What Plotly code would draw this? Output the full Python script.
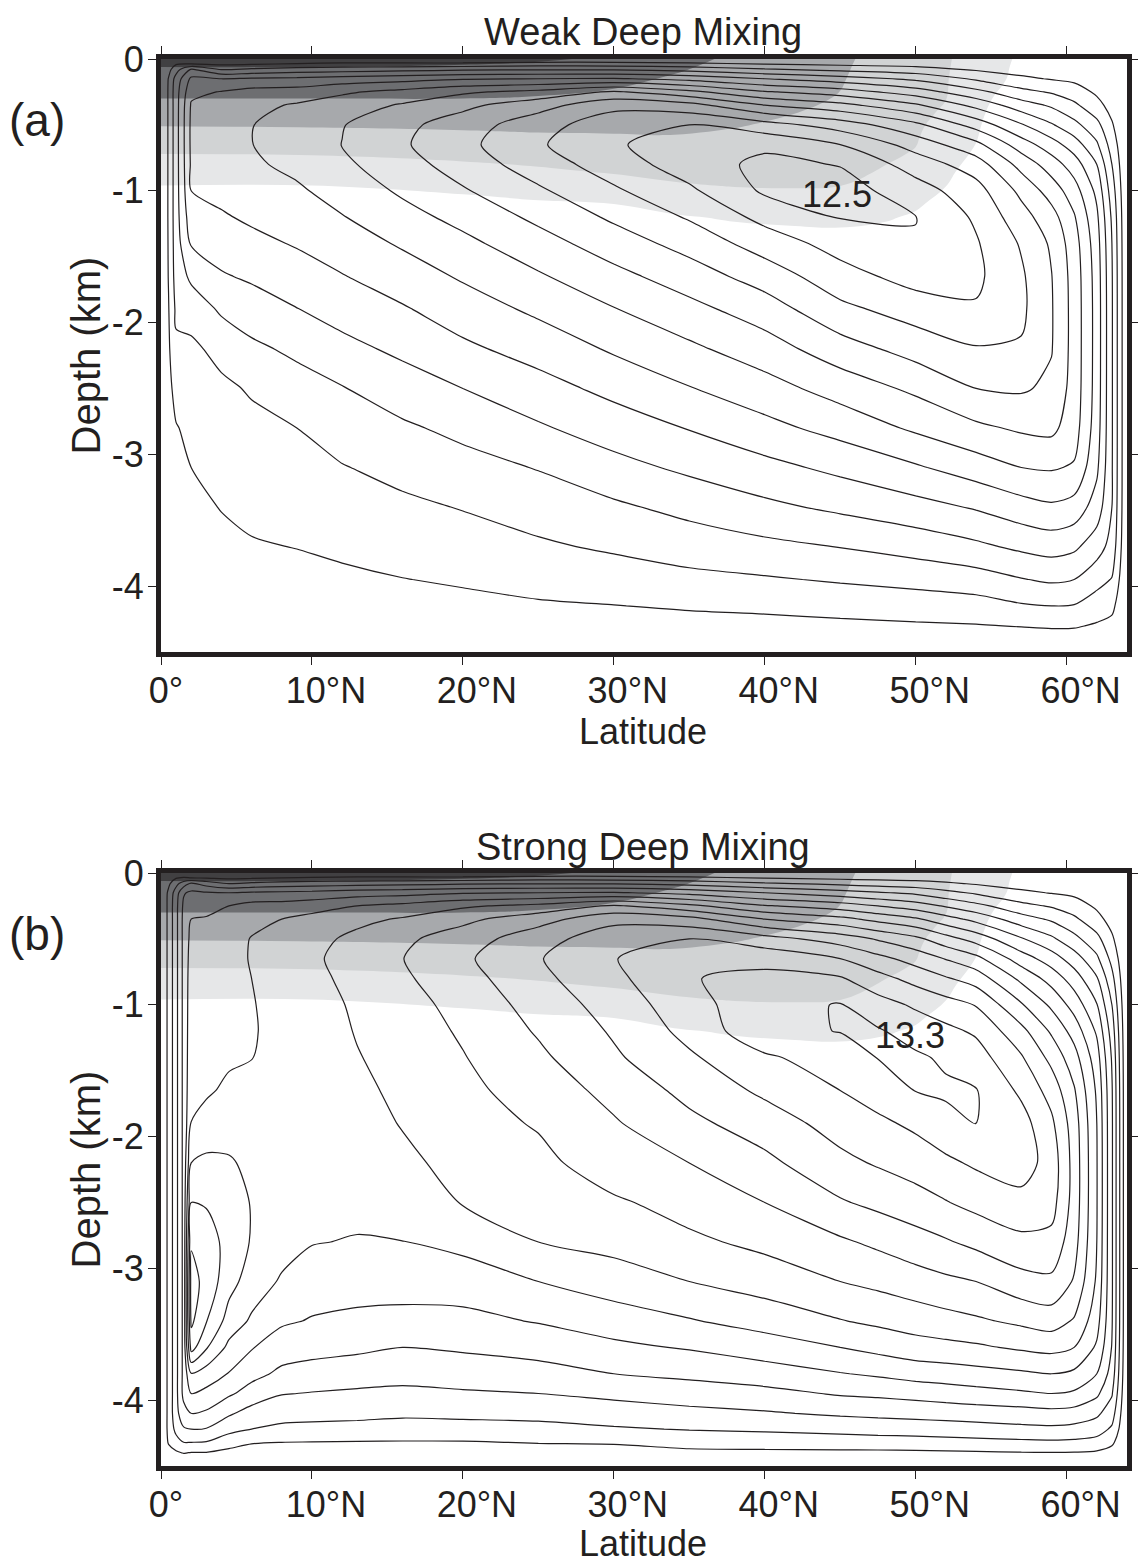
import numpy as np
import plotly.graph_objects as go

FONT = "Liberation Sans, Arial, Helvetica, sans-serif"
INK = "#231f20"

# ---------------- data ----------------
# Panel (a): overturning streamfunction (Sv); one list per latitude, surface -> bottom
depth_a = [0, -0.03, -0.08, -0.15, -0.25, -0.35, -0.5, -0.65, -0.8, -1.0, -1.2, -1.4,
           -1.65, -1.9, -2.2, -2.5, -2.8, -3.1, -3.4, -3.7, -3.95, -4.15, -4.3, -4.42, -4.5]
lat_a = [0, 0.5, 1, 2, 4, 6, 9, 12, 16, 20, 25, 30, 35, 40, 45, 50, 54, 57, 59, 60.5, 62, 63, 64]
psi_a_by_lat = [
    [0] * 25,
    [0, 0.3, 0.7, 1.05, 1.1, 1.1, 1.1, 1.1, 1.1, 1.1, 1.1, 1.08, 1.05, 0.95, 0.85, 0.75, 0.65, 0.55, 0.45, 0.35, 0.25, 0.17, 0.1, 0.05, 0],
    [0, 0.8, 1.6, 2.4, 2.6, 2.6, 2.6, 2.6, 2.6, 2.6, 2.6, 2.55, 2.45, 2.2, 1.8, 1.3, 0.95, 0.75, 0.6, 0.45, 0.33, 0.22, 0.13, 0.06, 0],
    [0, 0.67, 3.15, 4.2, 4.75, 5.1, 5.2, 5.2, 5.15, 5.0, 4.6, 4.1, 3.2, 2.4, 1.8, 1.45, 1.2, 1.0, 0.8, 0.6, 0.42, 0.28, 0.17, 0.08, 0],
    [0, 0.6, 2.0, 4.0, 5.05, 5.35, 5.55, 5.55, 5.45, 5.25, 4.9, 4.45, 3.9, 3.15, 2.3, 1.8, 1.5, 1.25, 1.03, 0.8, 0.55, 0.38, 0.23, 0.1, 0],
    [0, 0.65, 2.2, 4.15, 5.35, 5.75, 5.97, 5.98, 5.85, 5.55, 5.15, 4.75, 4.15, 3.5, 2.8, 2.1, 1.75, 1.45, 1.2, 0.93, 0.68, 0.47, 0.3, 0.13, 0],
    [0, 0.85, 2.45, 4.2, 5.45, 6.1, 6.45, 6.5, 6.25, 5.85, 5.45, 5.08, 4.55, 3.97, 3.2, 2.6, 2.0, 1.65, 1.35, 1.02, 0.75, 0.52, 0.33, 0.15, 0],
    [0, 1.0, 2.55, 4.45, 5.85, 6.5, 6.95, 7.02, 6.8, 6.4, 5.95, 5.5, 4.95, 4.4, 3.7, 2.95, 2.45, 1.95, 1.55, 1.15, 0.85, 0.6, 0.38, 0.17, 0],
    [0, 1.0, 2.7, 4.65, 6.3, 7.1, 7.75, 7.88, 7.6, 7.15, 6.65, 6.12, 5.5, 4.9, 4.22, 3.5, 2.85, 2.3, 1.8, 1.35, 0.98, 0.7, 0.45, 0.2, 0],
    [0, 1.0, 2.85, 4.9, 6.85, 7.75, 8.5, 8.72, 8.45, 7.9, 7.3, 6.75, 6.12, 5.5, 4.8, 4.0, 3.25, 2.65, 2.05, 1.55, 1.1, 0.78, 0.5, 0.22, 0],
    [0, 1.2, 2.95, 5.0, 7.3, 8.6, 9.6, 9.88, 9.5, 8.85, 8.22, 7.6, 6.88, 6.2, 5.4, 4.62, 3.88, 3.05, 2.45, 1.85, 1.3, 0.9, 0.58, 0.26, 0],
    [0, 1.2, 2.9, 5.1, 8.15, 9.7, 10.6, 10.85, 10.5, 9.85, 9.17, 8.5, 7.7, 6.95, 6.13, 5.28, 4.47, 3.68, 2.83, 2.15, 1.48, 0.98, 0.62, 0.28, 0],
    [0, 1.0, 2.65, 4.7, 7.25, 9.35, 11.0, 11.65, 11.5, 10.82, 10.1, 9.37, 8.5, 7.7, 6.8, 5.95, 5.05, 4.2, 3.3, 2.45, 1.75, 1.1, 0.68, 0.3, 0],
    [0, 0.75, 2.15, 4.0, 6.1, 8.0, 10.4, 11.8, 12.25, 12.15, 11.3, 10.45, 9.45, 8.5, 7.55, 6.6, 5.7, 4.7, 3.78, 2.75, 1.9, 1.2, 0.72, 0.32, 0],
    [0, 0.6, 1.75, 3.45, 5.5, 7.3, 9.55, 11.0, 11.95, 12.45, 12.05, 11.4, 10.6, 9.75, 8.55, 7.42, 6.35, 5.25, 4.2, 3.03, 2.1, 1.35, 0.8, 0.35, 0],
    [0, 0.5, 1.4, 2.8, 4.5, 6.15, 8.25, 9.6, 10.55, 11.45, 12.02, 11.95, 11.4, 10.45, 9.4, 8.2, 7.17, 5.88, 4.65, 3.4, 2.3, 1.5, 0.88, 0.38, 0],
    [0, 0.33, 0.9, 1.85, 3.3, 4.7, 6.6, 8.3, 9.5, 10.4, 10.85, 11.1, 11.2, 10.9, 9.92, 9.0, 7.8, 6.5, 5.1, 3.8, 2.55, 1.6, 0.95, 0.4, 0],
    [0, 0.23, 0.6, 1.2, 2.3, 3.45, 5.1, 6.5, 7.65, 8.75, 9.4, 9.9, 10.15, 10.2, 9.9, 9.12, 8.15, 7.0, 5.6, 4.2, 2.95, 1.9, 1.05, 0.45, 0],
    [0, 0.2, 0.5, 0.93, 1.9, 2.85, 4.1, 5.45, 6.5, 7.55, 8.4, 8.85, 9.03, 9.08, 9.05, 8.8, 8.25, 7.1, 5.85, 4.4, 3.15, 2.0, 1.12, 0.48, 0],
    [0, 0.15, 0.4, 0.8, 1.45, 2.2, 3.3, 4.5, 5.5, 6.45, 7.1, 7.45, 7.6, 7.63, 7.63, 7.6, 7.45, 6.9, 5.6, 4.2, 3.0, 1.95, 1.1, 0.47, 0],
    [0, 0.1, 0.27, 0.5, 0.85, 1.3, 2.3, 3.15, 4.0, 4.75, 5.2, 5.45, 5.58, 5.62, 5.62, 5.6, 5.5, 5.2, 4.55, 3.45, 2.35, 1.5, 0.9, 0.4, 0],
    [0, 0.05, 0.13, 0.24, 0.42, 0.65, 1.1, 1.55, 2.0, 2.5, 2.85, 3.0, 3.08, 3.1, 3.1, 3.1, 3.1, 3.08, 3.0, 2.65, 1.95, 1.25, 0.72, 0.32, 0],
    [0] * 25,
]

# Panel (b)
depth_b = [0, -0.03, -0.08, -0.15, -0.25, -0.35, -0.5, -0.65, -0.8, -1.0, -1.2, -1.4, -1.65, -1.9,
           -2.2, -2.5, -2.8, -3.1, -3.4, -3.6, -3.8, -3.95, -4.1, -4.22, -4.32, -4.4, -4.5]
lat_b = [0, 0.5, 1, 1.5, 2, 3, 4.5, 6, 8, 10, 13, 16, 20, 25, 30, 35, 40, 45, 47.5, 50, 52, 54,
         57, 59, 60.5, 62, 63, 64]
psi_b_by_lat = [
    [0] * 27,
    [0, 0.35, 0.8, 1.2] + [1.25] * 20 + [1.1, 0.6, 0],
    [0, 0.8, 1.7, 2.5] + [2.7] * 19 + [2.3, 1.6, 0.85, 0],
    [0, 0.9, 2.5, 3.9, 4.2] + [4.3] * 17 + [3.6, 2.9, 2.0, 1.05, 0],
    [0, 0.67, 3.15, 4.2, 4.75, 5.0, 5.3, 5.45, 5.55, 5.6, 5.65, 5.7, 5.8, 6.02, 7.0, 8.0, 8.9, 9.35, 9.2, 8.4, 5.95, 5.0, 4.0, 3.0, 2.0, 0.95, 0],
    [0, 0.65, 2.6, 4.1, 4.8, 5.05, 5.3, 5.4, 5.45, 5.5, 5.55, 5.65, 5.85, 6.4, 7.2, 7.9, 8.55, 8.7, 8.05, 7.1, 5.55, 4.75, 3.85, 2.95, 1.95, 0.95, 0],
    [0, 0.6, 2.0, 4.0, 5.0, 5.35, 5.55, 5.6, 5.65, 5.7, 5.75, 5.85, 6.2, 6.6, 7.1, 7.45, 7.6, 7.35, 6.6, 5.75, 4.95, 4.15, 3.15, 2.3, 1.45, 0.7, 0],
    [0, 0.65, 2.2, 4.15, 5.35, 5.7, 6.05, 6.08, 6.0, 5.93, 5.9, 5.98, 6.2, 6.45, 6.8, 6.95, 6.93, 6.55, 5.85, 5.07, 4.3, 3.6, 2.6, 2.0, 1.08, 0.55, 0],
    [0, 0.8, 2.4, 4.2, 5.4, 6.0, 6.4, 6.55, 6.5, 6.4, 6.35, 6.35, 6.4, 6.5, 6.6, 6.6, 6.4, 5.88, 5.15, 4.45, 3.8, 3.05, 2.35, 1.8, 1.0, 0.5, 0],
    [0, 0.9, 2.5, 4.3, 5.6, 6.3, 6.7, 6.85, 6.75, 6.6, 6.5, 6.45, 6.45, 6.45, 6.4, 6.3, 6.05, 5.5, 4.93, 4.35, 3.6, 2.95, 2.3, 1.75, 0.98, 0.5, 0],
    [0, 1.0, 2.6, 4.55, 6.0, 6.75, 7.25, 7.4, 7.3, 7.15, 7.06, 6.95, 6.8, 6.65, 6.5, 6.3, 5.93, 5.38, 4.8, 4.2, 3.45, 2.85, 2.25, 1.7, 0.95, 0.48, 0],
    [0, 1.0, 2.7, 4.65, 6.3, 7.1, 7.8, 7.98, 7.85, 7.65, 7.5, 7.35, 7.2, 7.05, 6.8, 6.5, 5.98, 5.35, 4.75, 4.0, 3.3, 2.8, 2.15, 1.65, 0.93, 0.47, 0],
    [0, 1.0, 2.85, 4.9, 6.85, 7.75, 8.5, 8.82, 8.6, 8.3, 8.12, 7.95, 7.75, 7.55, 7.3, 7.05, 6.3, 5.45, 4.75, 4.15, 3.4, 2.9, 2.2, 1.68, 0.94, 0.47, 0],
    [0, 1.2, 2.95, 5.0, 7.3, 8.6, 9.6, 9.93, 9.75, 9.4, 9.1, 8.8, 8.45, 8.1, 7.7, 7.4, 7.0, 6.0, 5.06, 4.4, 3.6, 3.0, 2.2, 1.8, 1.05, 0.55, 0],
    [0, 1.2, 2.9, 5.1, 8.15, 9.7, 10.6, 10.95, 10.75, 10.42, 10.12, 9.85, 9.3, 8.9, 8.6, 7.85, 7.3, 6.55, 5.45, 4.8, 4.0, 3.25, 2.5, 1.9, 1.1, 0.58, 0],
    [0, 1.0, 2.65, 4.7, 7.25, 9.35, 11.0, 11.85, 11.95, 11.6, 11.3, 10.85, 10.3, 9.75, 9.0, 8.4, 7.8, 7.0, 5.92, 5.08, 4.25, 3.45, 2.75, 2.05, 1.4, 0.75, 0],
    [0, 0.75, 2.15, 4.0, 6.1, 8.0, 10.4, 11.7, 12.25, 12.7, 12.75, 11.85, 11.2, 10.5, 9.75, 9.0, 8.25, 7.45, 6.4, 5.5, 4.55, 3.7, 2.9, 2.15, 1.45, 0.78, 0],
    [0, 0.6, 1.75, 3.45, 5.5, 7.3, 9.55, 11.0, 12.1, 13.05, 13.03, 12.5, 12.0, 11.4, 10.75, 9.9, 8.85, 8.0, 6.95, 6.0, 4.95, 4.1, 3.15, 2.3, 1.5, 0.8, 0],
    [0, 0.55, 1.55, 3.1, 5.0, 6.7, 8.9, 10.3, 11.35, 12.4, 13.1, 13.03, 12.45, 11.8, 11.1, 10.25, 9.2, 8.25, 7.2, 6.3, 5.15, 4.2, 3.25, 2.4, 1.55, 0.8, 0],
    [0, 0.5, 1.4, 2.8, 4.5, 6.15, 8.25, 9.6, 10.65, 11.85, 12.6, 13.15, 13.03, 12.2, 11.45, 10.6, 9.6, 8.55, 7.45, 6.6, 5.4, 4.35, 3.35, 2.45, 1.6, 0.82, 0],
    [0, 0.42, 1.15, 2.3, 3.9, 5.4, 7.4, 8.95, 10.1, 11.4, 12.25, 12.85, 13.15, 12.7, 11.8, 10.95, 9.9, 8.8, 7.65, 6.72, 5.52, 4.5, 3.42, 2.52, 1.66, 0.85, 0],
    [0, 0.33, 0.9, 1.85, 3.3, 4.7, 6.6, 8.3, 9.55, 10.95, 11.85, 12.45, 13.05, 13.02, 12.15, 11.3, 10.25, 9.0, 7.85, 6.85, 5.65, 4.65, 3.5, 2.6, 1.72, 0.88, 0],
    [0, 0.23, 0.6, 1.2, 2.3, 3.45, 5.1, 6.5, 7.75, 9.1, 10.3, 11.1, 11.8, 12.4, 12.45, 11.7, 10.75, 9.65, 8.2, 7.15, 5.85, 4.85, 3.6, 2.75, 1.8, 0.95, 0],
    [0, 0.2, 0.5, 0.95, 1.9, 2.85, 4.2, 5.5, 6.6, 7.8, 8.85, 9.7, 10.6, 11.2, 11.6, 11.4, 10.7, 9.8, 8.45, 7.3, 6.0, 5.0, 3.7, 2.8, 1.85, 0.97, 0],
    [0, 0.15, 0.4, 0.8, 1.45, 2.2, 3.3, 4.5, 5.5, 6.6, 7.6, 8.4, 9.1, 9.5, 9.62, 9.6, 9.4, 8.9, 7.9, 7.0, 5.8, 4.85, 3.6, 2.7, 1.8, 0.95, 0],
    [0, 0.1, 0.27, 0.5, 0.85, 1.3, 2.3, 3.2, 4.1, 5.05, 5.85, 6.45, 6.85, 7.0, 7.05, 7.05, 7.0, 6.85, 6.4, 5.85, 5.0, 4.2, 3.2, 2.45, 1.65, 0.85, 0],
    [0, 0.05, 0.13, 0.24, 0.42, 0.65, 1.15, 1.7, 2.3, 3.0, 3.55, 3.9, 4.1, 4.15, 4.15, 4.15, 4.15, 4.15, 4.1, 3.95, 3.6, 3.1, 2.45, 1.85, 1.2, 0.6, 0],
    [0] * 27,
]

# grey shading field (same in both panels); band boundaries at levels 1..5
shade_lat = [0, 10, 20, 25, 30, 34, 38, 42, 45, 48, 50, 52, 54, 56, 58, 64]
shade_depth = [0, -0.06, -0.15, -0.3, -0.4, -0.51, -0.6, -0.72, -0.85, -0.96, -1.1, -1.2, -1.3, -1.5, -4.5]
shade_by_lat = [
    [5.3, 5.0, 4.625, 4.0, 3.524, 3.0, 2.571, 2.0, 1.458, 1.0, 0.74, 0.556, 0.37, 0.0, 0.0],
    [5.3, 5.0, 4.625, 4.0, 3.545, 3.045, 2.619, 2.048, 1.479, 1.0, 0.74, 0.556, 0.37, 0.0, 0.0],
    [5.2, 4.923, 4.577, 4.0, 3.583, 3.125, 2.75, 2.25, 1.682, 1.182, 0.8, 0.6, 0.4, 0.0, 0.0],
    [5.08, 4.846, 4.5, 3.929, 3.571, 3.179, 2.846, 2.385, 1.87, 1.391, 0.9, 0.7, 0.5, 0.1, 0.0],
    [4.9, 4.643, 4.257, 3.75, 3.472, 3.167, 2.903, 2.516, 2.097, 1.636, 1.0, 0.8, 0.6, 0.2, 0.0],
    [4.4, 4.16, 3.896, 3.583, 3.375, 3.146, 2.944, 2.611, 2.25, 1.909, 1.273, 0.92, 0.72, 0.32, 0.0],
    [3.8, 3.709, 3.574, 3.347, 3.196, 3.03, 2.844, 2.578, 2.289, 2.044, 1.5, 1.083, 0.84, 0.44, 0.0],
    [3.55, 3.471, 3.354, 3.157, 3.026, 2.845, 2.69, 2.483, 2.259, 2.069, 1.6, 1.2, 0.9, 0.5, 0.0],
    [3.15, 3.117, 3.067, 2.957, 2.814, 2.657, 2.529, 2.357, 2.171, 2.014, 1.567, 1.233, 0.94, 0.54, 0.0],
    [2.7, 2.649, 2.573, 2.447, 2.363, 2.27, 2.194, 2.093, 1.95, 1.675, 1.325, 1.075, 0.86, 0.46, 0.0],
    [2.4, 2.366, 2.314, 2.229, 2.171, 2.109, 2.057, 1.956, 1.667, 1.422, 1.111, 0.9, 0.7, 0.3, 0.0],
    [2.1, 2.083, 2.057, 2.014, 1.919, 1.742, 1.597, 1.403, 1.194, 1.016, 0.74, 0.54, 0.34, 0.0, 0.0],
    [1.6, 1.545, 1.464, 1.327, 1.236, 1.136, 1.055, 0.88, 0.62, 0.4, 0.12, 0.0, 0.0, 0.0, 0.0],
    [1.1, 1.063, 1.006, 0.72, 0.52, 0.3, 0.12, 0.0, 0.0, 0.0, 0.0, 0.0, 0.0, 0.0, 0.0],
    [0.6, 0.5, 0.35, 0.1, 0.0, 0.0, 0.0, 0.0, 0.0, 0.0, 0.0, 0.0, 0.0, 0.0, 0.0],
    [0.0] * 15,
]
shade_levels = [1, 2, 3, 4, 5]
shade_colors = ["#e6e7e8", "#d1d3d4", "#a7a9ac", "#6d6e71", "#414042"]

x_tickvals = [0, 10, 20, 30, 40, 50, 60]
x_ticktext = ["0°\u2002", "10°N", "20°N", "30°N", "40°N", "50°N", "60°N"]
y_tickvals = [0, -1, -2, -3, -4]
y_ticktext = ["0", "-1", "-2", "-3", "-4"]

titles = ["Weak Deep Mixing", "Strong Deep Mixing"]
panel_tags = ["(a)", "(b)"]
max_labels = [("12.5", 44.8, -1.03), ("13.3", 49.6, -1.23)]
contour_top = [12, 13]

# ---------------- figure ----------------
W, H = 1138, 1564
fig = go.Figure()

shade_z = np.array(shade_by_lat).T
panels = [(lat_a, depth_a, psi_a_by_lat, "x", "y"), (lat_b, depth_b, psi_b_by_lat, "x2", "y2")]
for i, (lats, deps, psi_cols, xa, ya) in enumerate(panels):
    for lev, col in zip(shade_levels, shade_colors):
        fig.add_trace(go.Contour(
            x=shade_lat, y=shade_depth, z=shade_z, xaxis=xa, yaxis=ya,
            contours=dict(type="constraint", operation="<", value=lev),
            fillcolor=col, line=dict(width=0, color=col, smoothing=1.2),
            showscale=False, hoverinfo="skip"))
    fig.add_trace(go.Contour(
        x=lats, y=deps, z=np.array(psi_cols).T, xaxis=xa, yaxis=ya,
        autocontour=False,
        contours=dict(coloring="none", start=1, end=contour_top[i], size=1),
        line=dict(color=INK, width=1.2, smoothing=0.8),
        showscale=False, hoverinfo="skip"))

px2x = lambda px: px / W
px2y = lambda py: 1 - py / H

xdom = [px2x(161), px2x(1127)]
ydoms = [[px2y(652), px2y(59)], [px2y(1466), px2y(873)]]

axis_common = dict(showline=True, linewidth=5, linecolor=INK, mirror="ticks",
                   ticks="outside", ticklen=8, tickwidth=1.2, tickcolor=INK,
                   showgrid=False, zeroline=False, automargin=False,
                   tickfont=dict(family=FONT, size=36, color=INK))
layout = dict(width=W, height=H, margin=dict(l=0, r=0, t=0, b=0, autoexpand=False),
              paper_bgcolor="white", plot_bgcolor="white", showlegend=False)
for i in range(2):
    sx = "" if i == 0 else "2"
    layout["xaxis" + sx] = dict(axis_common, domain=xdom, range=[0, 64],
                                tickvals=x_tickvals, ticktext=x_ticktext,
                                ticklabelshift=14, ticklabelstandoff=-5, anchor="y" + sx)
    layout["yaxis" + sx] = dict(axis_common, domain=ydoms[i], range=[-4.5, 0],
                                tickvals=y_tickvals, ticktext=y_ticktext,
                                ticklabelstandoff=-3, anchor="x" + sx)
fig.update_layout(**layout)

ann = []
title_y = [32, 847]
tag_y = [120, 934]
lat_title_y = [732, 1543]
for i in range(2):
    ann.append(dict(text=titles[i], x=px2x(643), y=px2y(title_y[i]), xref="paper", yref="paper",
                    showarrow=False, xanchor="center", yanchor="middle",
                    font=dict(family=FONT, size=38, color=INK)))
    ann.append(dict(text=panel_tags[i], x=px2x(37), y=px2y(tag_y[i]), xref="paper", yref="paper",
                    showarrow=False, xanchor="center", yanchor="middle",
                    font=dict(family=FONT, size=46, color=INK)))
    ann.append(dict(text="Latitude", x=px2x(643), y=px2y(lat_title_y[i]), xref="paper", yref="paper",
                    showarrow=False, xanchor="center", yanchor="middle",
                    font=dict(family=FONT, size=36, color=INK)))
    ann.append(dict(text="Depth (km)", x=px2x(85), y=(ydoms[i][0] + ydoms[i][1]) / 2,
                    xref="paper", yref="paper", textangle=-90,
                    showarrow=False, xanchor="center", yanchor="middle",
                    font=dict(family=FONT, size=40, color=INK)))
    lab, lx, ly = max_labels[i]
    sx = "" if i == 0 else "2"
    ann.append(dict(text=lab, x=lx, y=ly, xref="x" + sx, yref="y" + sx, showarrow=False,
                    xanchor="center", yanchor="middle",
                    font=dict(family=FONT, size=36, color=INK)))
fig.update_layout(annotations=ann)

fig.write_html("out.html", config={"displayModeBar": False},
               post_script="document.body.style.margin='0px';document.body.style.overflow='hidden';")
